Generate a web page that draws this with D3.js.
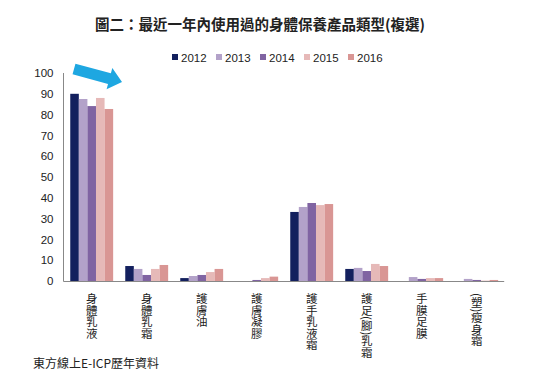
<!DOCTYPE html>
<html><head><meta charset="utf-8">
<script src="https://cdn.jsdelivr.net/npm/d3@7"></script>
<style>body{margin:0;background:#fff}svg{display:block}</style>
</head><body>
<script>
const title = "圖二：最近一年內使用過的身體保養產品類型(複選)";
const source = "東方線上E-ICP歷年資料";
const categories = ["身體乳液","身體乳霜","護膚油","護膚凝膠","護手乳液霜","護足(腳)乳霜","手膜足膜","(塑)瘦身霜"];
const years = ["2012","2013","2014","2015","2016"];
const v2012 = [90, 7.2, 1.4, 0, 33.2, 5.8, 0, 0];
const v2013 = [87.5, 5.8, 2.4, 0, 35.6, 6.3, 1.9, 1.0];
const v2014 = [84.1, 2.9, 2.9, 0.5, 37.5, 4.8, 1.0, 0.5];
const v2015 = [88, 5.8, 4.3, 1.4, 36.5, 8.2, 1.4, 0.2];
const v2016 = [82.7, 7.7, 5.8, 2.1, 37, 7.2, 1.4, 0.5];
const yTicks = [0,10,20,30,40,50,60,70,80,90,100];
const colors = ["#13205e","#b3a2c9","#8064a2","#e6b9b8","#d99694"];
const series = [v2012, v2013, v2014, v2015, v2016];

const W = 554, H = 379;
const svg = d3.select("body").append("svg").attr("width", W).attr("height", H);
const FONT = "Arial, 'Liberation Sans', sans-serif";
const CJK = "'Noto Sans CJK TC', sans-serif";

const x0 = d3.scaleBand().domain(categories).range([64.2, 504.2]).paddingInner(0.22).paddingOuter(0.11);
const x1 = d3.scaleBand().domain(years).range([0, x0.bandwidth()]);
const y = d3.scaleLinear().domain([0, 100]).range([281, 73]);

// title
svg.append("text").attr("x", 260).attr("y", 30).attr("text-anchor", "middle")
  .style("font-family", CJK).style("font-size", "14.5px").style("font-weight", "bold").attr("fill", "#222")
  .text(title);

// legend
const lg = svg.append("g");
years.forEach((yr, i) => {
  const lx = 172 + i * 44;
  lg.append("rect").attr("x", lx).attr("y", 54).attr("width", 6).attr("height", 6).attr("fill", colors[i]);
  lg.append("text").attr("x", lx + 9).attr("y", 61.5).style("font-family", FONT).style("font-size", "11.5px").attr("fill", "#222").text(yr);
});

// bars
series.forEach((vals, si) => {
  svg.append("g").selectAll("rect").data(vals).join("rect")
    .attr("x", (d, i) => x0(categories[i]) + x1(years[si]))
    .attr("y", d => y(d))
    .attr("width", x1.bandwidth())
    .attr("height", d => y(0) - y(d))
    .attr("fill", colors[si]);
});

// y axis
const yAxis = d3.axisLeft(y).tickValues(yTicks).tickSize(0).tickPadding(10);
const ya = svg.append("g").attr("transform", "translate(63.5,0)").call(yAxis);
ya.select(".domain").attr("stroke", "#888").attr("d", "M0,73V281.5");
ya.selectAll("text").style("font-family", FONT).style("font-size", "11.5px").attr("fill", "#222");

// x axis
const xAxis = d3.axisBottom(x0).tickSize(0).tickFormat("");
const xa = svg.append("g").attr("transform", "translate(0,281.5)").call(xAxis);
xa.select(".domain").attr("stroke", "#888").attr("d", "M63.5,0H504.2");

// x labels vertical
svg.append("g").selectAll("text").data(categories).join("text")
  .attr("x", d => x0(d) + x0.bandwidth() / 2)
  .attr("y", 293)
  .style("writing-mode", "vertical-rl")
  .style("font-family", CJK).style("font-size", "11.5px").attr("fill", "#222")
  .text(d => d);

// arrow decoration
const ax0 = 74, ay0 = 69, ax1 = 122, ay1 = 82;
const ang = Math.atan2(ay1 - ay0, ax1 - ax0) * 180 / Math.PI;
const len = Math.hypot(ax1 - ax0, ay1 - ay0);
svg.append("path")
  .attr("transform", `translate(${ax0},${ay0}) rotate(${ang})`)
  .attr("d", `M0,-5.5 L${len - 13},-5.5 L${len - 13},-11 L${len},0 L${len - 13},11 L${len - 13},5.5 L0,5.5 Z`)
  .attr("fill", "#1ea7e1");

// source
svg.append("text").attr("x", 33).attr("y", 368).style("font-family", CJK).style("font-size", "12px").attr("fill", "#222").text(source);
</script>
</body></html>
